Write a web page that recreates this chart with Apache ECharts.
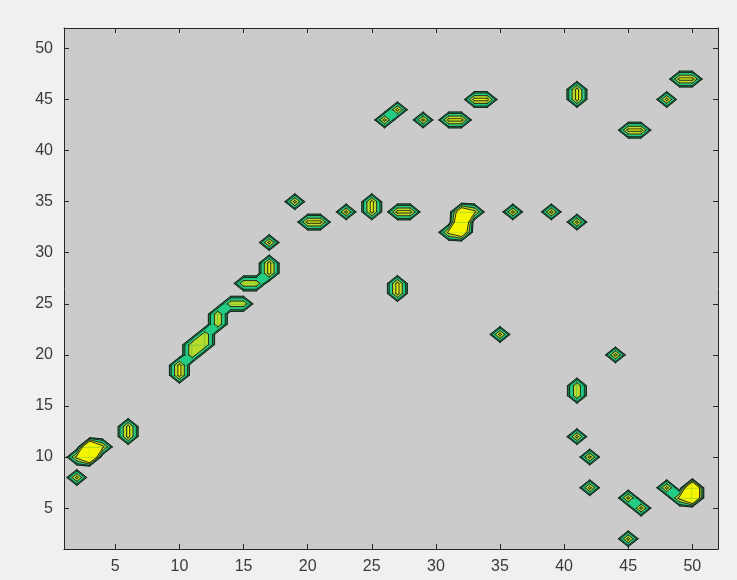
<!DOCTYPE html>
<html><head><meta charset="utf-8">
<script src="https://cdn.jsdelivr.net/npm/echarts@6/dist/echarts.min.js"></script>
<style>html,body{margin:0;padding:0;background:#f0f0f0;}#c{width:737px;height:580px;}</style>
</head><body><div id="c"></div>
<script>
// Non-zero matrix entries (column x, row y, value); everything else is 0
const nodeX = [2, 2,3,3,4, 6,6, 10,10, 11,11,12,12, 13,13, 14,15, 15,16, 17,17, 17, 19, 20,21, 23, 25,25, 27,28, 27,27,
  31,32,32,32,33, 35, 36, 39, 41, 26,27, 29, 31,32, 33,34, 41,41, 45,46, 48, 49,50, 44, 41,41, 41, 42, 42, 45,46, 45, 48,49,50,50];
const nodeY = [8, 10,10,11,11, 12,13, 18,19, 20,21,21,22, 23,24, 25,25, 27,27, 28,29, 31, 35, 33,33, 34, 34,35, 34,34, 26,27,
  32,32,33,34,34, 22, 34, 34, 33, 43,44, 43, 43,43, 45,45, 45,46, 42,42, 45, 47,47, 20, 16,17, 12, 10, 7, 6,5, 2, 7,6,6,7];
const nodeV = [1, 1,2,2,1, 1,1, 1,1, 0.85,0.85,0.85,0.85, 0.85,0.85, 0.85,0.85, 0.85,0.85, 1,1, 1, 1, 1,1, 1, 1,1, 1,1, 1,1,
  1,1.5,2,1.5,1, 1, 1, 1, 1, 1,1, 1, 1,1, 1,1, 1,1, 1,1, 1, 1,1, 1, 0.85,0.85, 1, 1, 1, 1,1, 1, 1,1,2,2];
const gridSize = 52;
const levels = [0.22, 0.36, 0.62, 0.88];
const bandColors = ['#1d7f3f', '#22cc84', '#b8dc2a', '#f5f500'];
const xTicks = [5, 10, 15, 20, 25, 30, 35, 40, 45, 50];
const yTicks = [5, 10, 15, 20, 25, 30, 35, 40, 45, 50];

const Z = [];
for (let i = 0; i <= gridSize + 1; i++) { Z.push(new Array(gridSize + 2).fill(0)); }
nodeX.forEach((x, k) => { Z[x][nodeY[k]] = nodeV[k]; });
const zAt = (x, y) => (x >= 1 && x <= gridSize && y >= 1 && y <= gridSize) ? Z[x][y] : 0;

const cells = [];
for (let i = 1; i < gridSize; i++) for (let j = 1; j < gridSize; j++) {
  const m = Math.max(zAt(i, j), zAt(i + 1, j), zAt(i + 1, j + 1), zAt(i, j + 1));
  if (m >= levels[0]) cells.push([i, j]);
}
function corners(i, j) {
  return [[i, j, zAt(i, j)], [i + 1, j, zAt(i + 1, j)], [i + 1, j + 1, zAt(i + 1, j + 1)], [i, j + 1, zAt(i, j + 1)]];
}
function interp(a, b, L) {
  const t = (L - a[2]) / (b[2] - a[2]);
  return [a[0] + t * (b[0] - a[0]), a[1] + t * (b[1] - a[1])];
}
function cellPolys(i, j, L) {
  const c = corners(i, j);
  const hi = c.map(p => p[2] >= L);
  const n = hi.filter(Boolean).length;
  if (n === 0) return [];
  const center = (c[0][2] + c[1][2] + c[2][2] + c[3][2]) / 4;
  if (n === 2 && hi[0] === hi[2] && center < L) {
    const polys = [];
    for (let k = 0; k < 4; k++) {
      if (!hi[k]) continue;
      const prev = c[(k + 3) % 4], next = c[(k + 1) % 4];
      polys.push([[c[k][0], c[k][1]], interp(c[k], next, L), interp(c[k], prev, L)]);
    }
    return polys;
  }
  const poly = [];
  for (let k = 0; k < 4; k++) {
    const a = c[k], b = c[(k + 1) % 4];
    if (hi[k]) poly.push([a[0], a[1]]);
    if (hi[k] !== hi[(k + 1) % 4]) poly.push(interp(a, b, L));
  }
  return [poly];
}
function cellSegs(i, j, L) {
  const c = corners(i, j);
  const hi = c.map(p => p[2] >= L);
  const e = [];
  for (let k = 0; k < 4; k++) e.push(hi[k] !== hi[(k + 1) % 4] ? interp(c[k], c[(k + 1) % 4], L) : null);
  const pts = e.filter(p => p);
  if (pts.length === 2) return [pts];
  if (pts.length === 4) {
    const center = (c[0][2] + c[1][2] + c[2][2] + c[3][2]) / 4;
    const conn = center >= L;
    let around;
    if (hi[0]) around = conn ? [1, 3] : [0, 2];
    else around = conn ? [0, 2] : [1, 3];
    return around.map(k => [e[(k + 3) % 4], e[k]]);
  }
  return [];
}

const chart = echarts.init(document.getElementById('c'), null, { renderer: 'canvas' });
const axisCol = '#262626';
const labelFont = { color: '#3a3a3a', fontSize: 16, fontFamily: 'Liberation Sans, Arial, sans-serif' };
function mkX(pos, showLabel) {
  return {
    type: 'value', position: pos, min: 1, max: gridSize,
    axisLine: { show: true, onZero: false, lineStyle: { color: axisCol, width: 1 } },
    axisTick: { show: true, inside: true, length: 5, customValues: xTicks, lineStyle: { color: axisCol } },
    axisLabel: Object.assign({ show: showLabel, customValues: xTicks, margin: 10 }, labelFont),
    splitLine: { show: false }
  };
}
function mkY(pos, showLabel) {
  return {
    type: 'value', position: pos, min: 1, max: gridSize,
    axisLine: { show: true, onZero: false, lineStyle: { color: axisCol, width: 1 } },
    axisTick: { show: true, inside: true, length: 5, customValues: yTicks, lineStyle: { color: axisCol } },
    axisLabel: Object.assign({ show: showLabel, customValues: yTicks, margin: 11 }, labelFont),
    splitLine: { show: false }
  };
}
chart.setOption({
  backgroundColor: '#f0f0f0',
  animation: false,
  grid: { left: 64, right: 19, top: 28, bottom: 31, show: true, backgroundColor: '#cbcbcb', borderWidth: 0 },
  xAxis: [mkX('bottom', true), mkX('top', false)],
  yAxis: [mkY('left', true), mkY('right', false)],
  series: [
    {
      type: 'custom', coordinateSystem: 'cartesian2d', clip: true, data: cells,
      encode: { x: 0, y: 1 }, silent: true,
      renderItem: function (params, api) {
        const i = api.value(0), j = api.value(1);
        const children = [];
        levels.forEach((L, k) => {
          cellPolys(i, j, L).forEach(poly => {
            children.push({
              type: 'polygon',
              shape: { points: poly.map(p => api.coord(p)) },
              style: { fill: bandColors[k], stroke: bandColors[k], lineWidth: 0.7 }
            });
          });
        });
        return { type: 'group', children: children };
      }
    },
    {
      type: 'custom', coordinateSystem: 'cartesian2d', clip: true, data: cells,
      encode: { x: 0, y: 1 }, silent: true, z: 3,
      renderItem: function (params, api) {
        const i = api.value(0), j = api.value(1);
        const children = [];
        levels.forEach(L => {
          cellSegs(i, j, L).forEach(s => {
            const a = api.coord(s[0]), b = api.coord(s[1]);
            children.push({
              type: 'line',
              shape: { x1: a[0], y1: a[1], x2: b[0], y2: b[1] },
              style: { stroke: '#181818', lineWidth: 0.9, lineCap: 'round' }
            });
          });
        });
        return { type: 'group', children: children };
      }
    }
  ]
});
</script>
</body></html>
